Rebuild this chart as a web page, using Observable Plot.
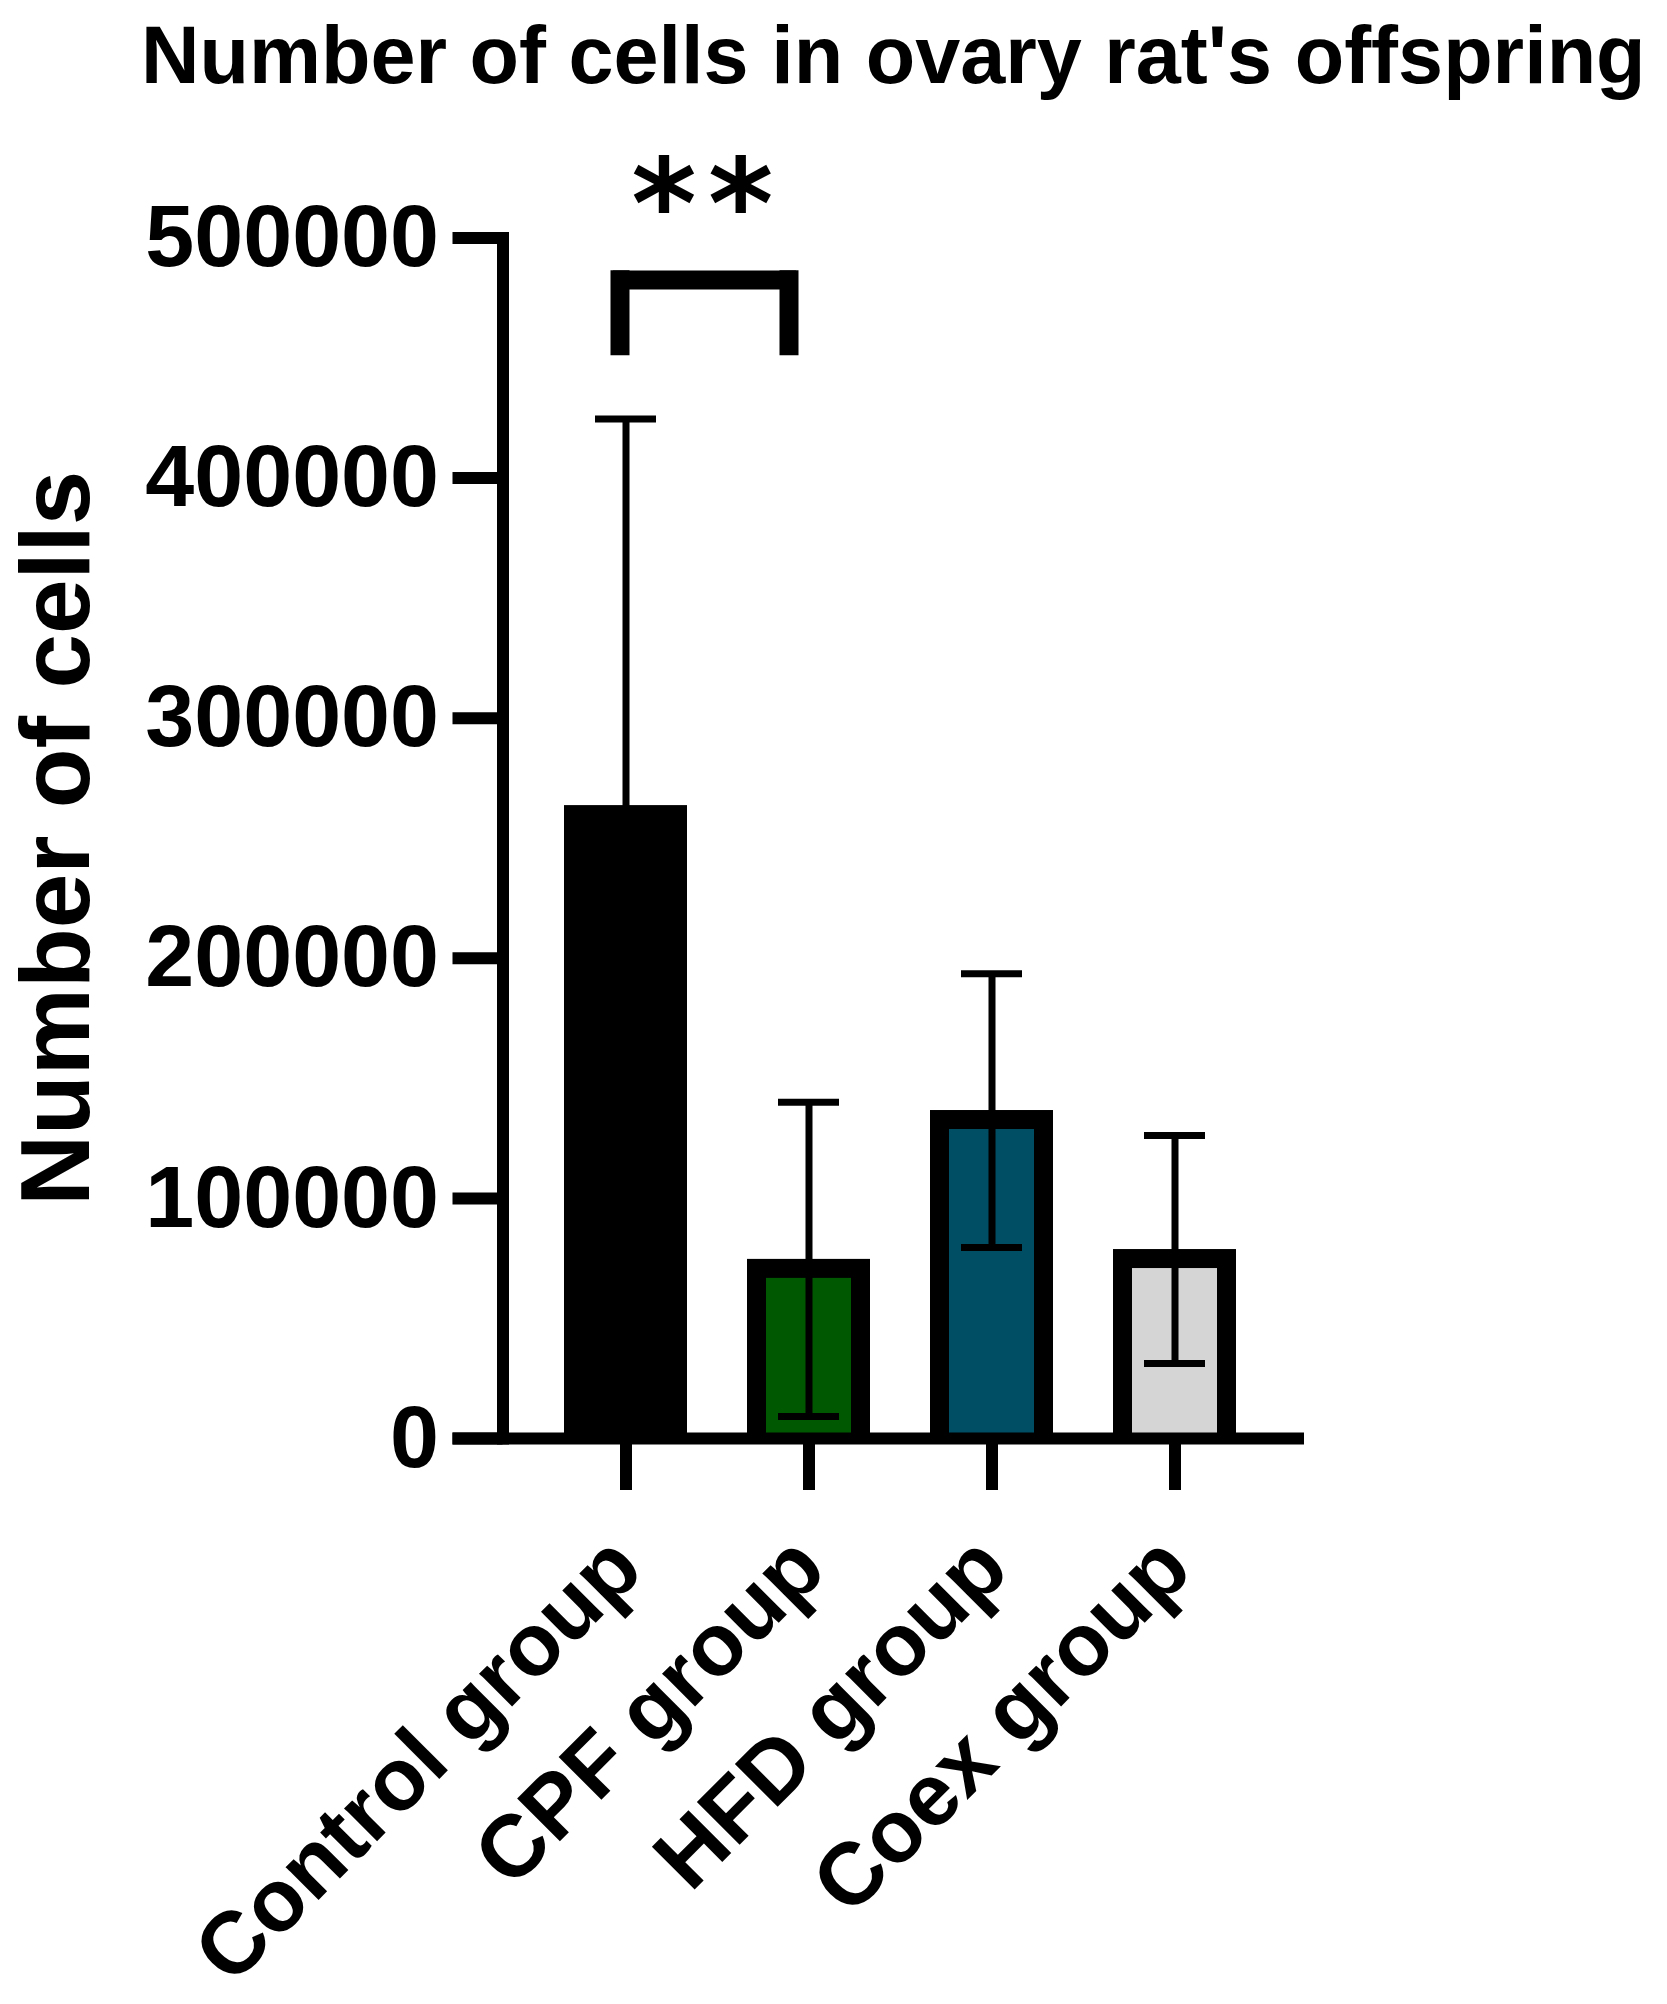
<!DOCTYPE html>
<html><head><meta charset="utf-8">
<script src="https://cdn.jsdelivr.net/npm/d3@7"></script>
<script src="https://cdn.jsdelivr.net/npm/@observablehq/plot@0.6"></script>
<style>
html,body{margin:0;padding:0;background:#fff;}
body{width:1667px;height:2004px;overflow:hidden;font-family:"Liberation Sans",Arial,sans-serif;}
#title{height:110px;line-height:110px;font-size:81px;font-weight:bold;padding-left:141px;white-space:nowrap;color:#000;}
#chart svg{display:block;}
#chart g[font-family="DejaVu Sans"] text{letter-spacing:11.5px;}
</style></head><body>
<div id="title"></div>
<div id="chart"></div>
<script>
const title = "Number of cells in ovary rat's offspring";
const yLabel = "Number of cells";
const groups = ["Control group", "CPF group", "HFD group", "Coex group"];
const means = [263600, 74600, 136600, 78700];
const sds = [161000, 65400, 57000, 47500];
const fills = ["#000000", "#005800", "#004E63", "#D5D5D5"];
const yTicks = [0, 100000, 200000, 300000, 400000, 500000];
const sigPair = ["Control group", "CPF group"];
const sigBracketTop = 482500;
const sigBracketTopEdge = 486400;
const sigBracketLeg = 451000;
const sigLabel = "**";
const sigLabelY = 512600;

document.getElementById("title").textContent = title;

const rows = groups.map((g, i) => ({group: g, mean: means[i], sd: sds[i], fill: fills[i]}));
const bracketTop = [
  {group: sigPair[0], value: sigBracketTop},
  {group: sigPair[1], value: sigBracketTop}
];
const legLeft = [{group: sigPair[0], y1: sigBracketLeg, y2: sigBracketTopEdge}];
const legRight = [{group: sigPair[1], y1: sigBracketLeg, y2: sigBracketTopEdge}];
const sig = [{group: sigPair[0], value: sigLabelY, label: sigLabel}];

const chart = Plot.plot({
  width: 1667,
  height: 1894,
  marginTop: 127.5,
  marginBottom: 566,
  marginLeft: 502.5,
  marginRight: 363,
  style: {fontFamily: "'Liberation Sans', Arial, sans-serif", fontWeight: "bold", color: "#000", background: "#fff"},
  x: {domain: groups, paddingInner: 0.3285, paddingOuter: 0.352, align: 0.477},
  y: {domain: [0, 500000]},
  color: {type: "identity"},
  marks: [
    Plot.barY(rows, {x: "group", y: "mean", fill: "#000"}),
    Plot.barY(rows, {x: "group", y: "mean", fill: "fill", insetLeft: 19, insetRight: 19, insetTop: 19}),
    Plot.ruleX(rows, {x: "group", y1: d => d.mean - d.sd, y2: d => d.mean + d.sd, stroke: "#000", strokeWidth: 7}),
    Plot.tickY(rows, {x: "group", y: d => d.mean - d.sd, stroke: "#000", strokeWidth: 7, insetLeft: 31, insetRight: 31}),
    Plot.tickY(rows, {x: "group", y: d => d.mean + d.sd, stroke: "#000", strokeWidth: 7, insetLeft: 31, insetRight: 31}),
    Plot.ruleY([0], {stroke: "#000", strokeWidth: 12, insetLeft: -50}),
    Plot.frame({anchor: "left", stroke: "#000", strokeWidth: 12, strokeLinecap: "square"}),
    Plot.axisY(yTicks, {tickSize: 50, tickPadding: 14, strokeWidth: 12, fontSize: 88, fontWeight: "bold", tickFormat: d => String(d), label: null}),
    Plot.axisX({tickSize: 52, strokeWidth: 12, tickRotate: -45, tickPadding: 62, fontSize: 88, fontWeight: "bold", label: null}),
    Plot.text([yLabel], {frameAnchor: "left", rotate: -90, textAnchor: "middle", lineAnchor: "top", dx: -484, fontSize: 98, fontWeight: "bold", text: d => d}),
    Plot.line(bracketTop, {x: "group", y: "value", stroke: "#000", strokeWidth: 19, strokeLinecap: "butt", dx: -13}),
    Plot.ruleX(legLeft, {x: "group", y1: "y1", y2: "y2", stroke: "#000", strokeWidth: 19, dx: -6}),
    Plot.ruleX(legRight, {x: "group", y1: "y1", y2: "y2", stroke: "#000", strokeWidth: 19, dx: -20}),
    Plot.text(sig, {x: "group", y: "value", text: "label", dx: 82, fontSize: 125, fontFamily: "DejaVu Sans", fontWeight: "bold"})
  ]
});
document.getElementById("chart").appendChild(chart);
</script>
</body></html>
